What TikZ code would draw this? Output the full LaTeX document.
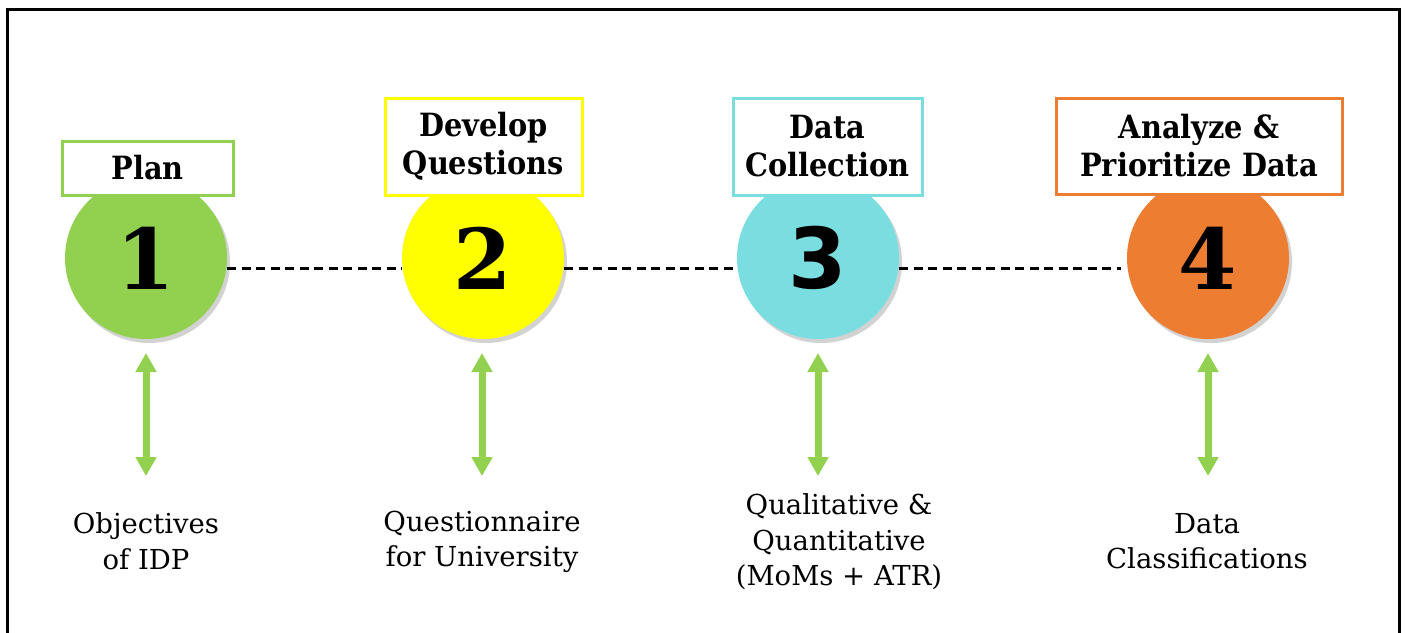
\documentclass[tikz,border=0pt]{standalone}
\usepackage{fontspec}
\setmainfont{DejaVu Serif}
\newfontfamily\numsans{DejaVu Sans}
\newfontfamily\condserif{DejaVu Serif Condensed}
\usetikzlibrary{shadows,arrows.meta}
\definecolor{cgreen}{HTML}{92D050}
\definecolor{cyellow}{HTML}{FFFF00}
\definecolor{ccyan}{HTML}{7ADDE0}
\definecolor{corange}{HTML}{ED7D31}
\begin{document}
\begin{tikzpicture}[x=1pt,y=-1pt,
  stepcirc/.style={circle, fill=#1, minimum size=162pt, inner sep=0pt,
    drop shadow={shadow xshift=3pt, shadow yshift=-4pt, opacity=0.25, fill=black!70},
    font=\fontsize{84}{84}\selectfont\bfseries},
  titlebox/.style={draw=#1, fill=white, line width=3pt, align=center,
    font=\condserif\fontsize{32}{38}\selectfont\bfseries, inner sep=0pt},
  sublabel/.style={align=center, font=\fontsize{27.5}{35.5}\selectfont, inner sep=0pt},
  link/.style={line width=3pt, dash pattern=on 9pt off 5.5pt},
  twoway/.style={line width=7pt, cgreen,
    {Triangle[width=20pt,length=19pt]}-{Triangle[width=20pt,length=19pt]}},
  frameline/.style={line width=3pt, black}
]
\useasboundingbox (0,0) rectangle (1405,632);
\fill[white] (0,0) rectangle (1405,632);
\draw[frameline] (7,640) -- (7,9) -- (1399,9) -- (1399,640);

% circles
\node[stepcirc=cgreen]  (c1) at (146,258) {1};
\node[stepcirc=cyellow] (c2) at (483,258) {2};
\node[stepcirc=ccyan]   (c3) at (818,258) {\numsans\bfseries 3};
\node[stepcirc=corange] (c4) at (1208,258) {4};

% dashed links
\draw[link] ([yshift=-10pt]c1.east) -- ([yshift=-10pt]c2.west);
\draw[link] ([yshift=-10pt]c2.east) -- ([yshift=-10pt]c3.west);
\draw[link, shorten >=6pt] ([yshift=-10pt]c3.east) -- ([yshift=-10pt]c4.west);

% title boxes
\node[titlebox=cgreen,  minimum width=171pt, minimum height=54pt] (t1) at (147.5,168) {Plan};
\node[titlebox=cyellow, minimum width=197pt, minimum height=97pt] (t2) at (483.5,146.5) {Develop\\Questions};
\node[titlebox=ccyan,   minimum width=189pt, minimum height=97pt] (t3) at (827.5,146.5) {Data\\Collection};
\node[titlebox=corange, minimum width=286pt, minimum height=96pt] (t4) at (1199,146) {Analyze \&\\Prioritize Data};

% bottom labels
\node[sublabel] (l1) at (146,541) {Objectives\\of IDP};
\node[sublabel] (l2) at (482,542) {Questionnaire\\for University};
\node[sublabel] (l3) at (839,542) {Qualitative \&\\Quantitative\\(MoMs + ATR)};
\node[sublabel] (l4) at (1207,541) {Data\\Classifications};

% two-way arrows
\coordinate (a1t) at (146,353); \coordinate (a1b) at (146,476);
\coordinate (a2t) at (482,353); \coordinate (a2b) at (482,476);
\coordinate (a3t) at (818,353); \coordinate (a3b) at (818,476);
\coordinate (a4t) at (1208,353); \coordinate (a4b) at (1208,476);
\draw[twoway] (a1t) -- (a1b);
\draw[twoway] (a2t) -- (a2b);
\draw[twoway] (a3t) -- (a3b);
\draw[twoway] (a4t) -- (a4b);
\end{tikzpicture}
\end{document}
